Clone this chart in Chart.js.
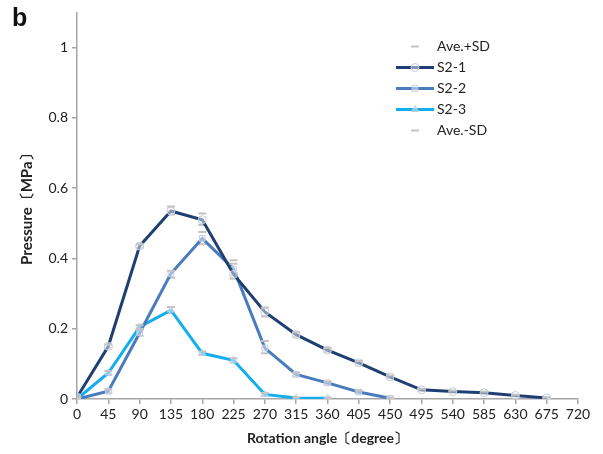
<!DOCTYPE html>
<html>
<head>
<meta charset="utf-8">
<script src="https://cdn.jsdelivr.net/npm/chart.js@4"></script>
<style>
  html, body { margin: 0; padding: 0; background: #fff; }
  #wrap { position: relative; width: 603px; height: 454px; }
  #tag { position: absolute; left: 12px; top: 3px; font: bold 25px "Liberation Sans", Arial, sans-serif; color: #111; }
</style>
</head>
<body>
<div id="wrap">
  <canvas id="chart" width="603" height="454"></canvas>
  <div id="tag">b</div>
</div>
<script>
const angles = [0, 45, 90, 135, 180, 225, 270, 315, 360, 405, 450, 495, 540, 585, 630, 675];
const xTicks = [0, 45, 90, 135, 180, 225, 270, 315, 360, 405, 450, 495, 540, 585, 630, 675, 720];
const yTicks = [0, 0.2, 0.4, 0.6, 0.8, 1];

const s21 = [0.005, 0.15, 0.435, 0.535, 0.51, 0.355, 0.248, 0.183, 0.139, 0.103, 0.063, 0.026, 0.021, 0.018, 0.01, 0.003];
const s22 = [0, 0.022, 0.188, 0.357, 0.457, 0.37, 0.145, 0.07, 0.046, 0.02, 0.002];
const s23 = [0, 0.074, 0.205, 0.253, 0.13, 0.11, 0.013, 0.003, 0.002];

// Ave.+SD / Ave.-SD dash markers for each series
const s21Up = [0.012, 0.155, 0.44, 0.548, 0.528, 0.395, 0.26, 0.19, 0.145, 0.108, 0.067, 0.029, 0.024, 0.021, 0.012, 0.005];
const s21Dn = [0.002, 0.145, 0.43, 0.525, 0.495, 0.342, 0.235, 0.177, 0.134, 0.098, 0.059, 0.023, 0.018, 0.015, 0.008, 0.001];
const s22Up = [0.005, 0.027, 0.2, 0.365, 0.475, 0.385, 0.165, 0.075, 0.05, 0.024, 0.004];
const s22Dn = [0, 0.017, 0.18, 0.345, 0.44, 0.352, 0.13, 0.065, 0.042, 0.016, 0];
const s23Up = [0.005, 0.08, 0.21, 0.262, 0.135, 0.116, 0.017, 0.005, 0.004];
const s23Dn = [0, 0.069, 0.198, 0.245, 0.125, 0.104, 0.009, 0.001, 0];

const pts = (vals) => vals.map((v, i) => ({ x: angles[i], y: v }));

const axisGray = "#a6a6a6";
const markerColor = "#c2cde0";
const markerFill = "rgba(255,255,255,0.45)";
const font = "Lato, 'Open Sans', sans-serif";

const lineSet = (label, vals, color, style) => ({
  label,
  data: pts(vals),
  borderColor: color,
  borderWidth: 3,
  showLine: true,
  pointStyle: style,
  pointRadius: 4,
  pointBorderColor: markerColor,
  pointBackgroundColor: markerFill,
  pointBorderWidth: 1,
  tension: 0,
});

const sdSet = (label, a, b, c) => ({
  label,
  data: pts(a).concat(pts(b), pts(c)),
  showLine: false,
  pointStyle: "line",
  pointRadius: 4,
  pointBorderColor: "#c4c4c4",
  pointBorderWidth: 2,
  borderColor: "#c4c4c4",
});

// legend drawn inside the plot, top right
const sideLegend = {
  id: "sideLegend",
  afterDraw(chart) {
    const ctx = chart.ctx;
    const x0 = 396, x1 = 434, tx = 437;
    let y = 46.5;
    ctx.save();
    chart.data.datasets.forEach((ds) => {
      if (ds.showLine) {
        ctx.strokeStyle = ds.borderColor;
        ctx.lineWidth = 3;
        ctx.beginPath();
        ctx.moveTo(x0, y);
        ctx.lineTo(x1, y);
        ctx.stroke();
      }
      ctx.strokeStyle = ds.pointBorderColor;
      ctx.fillStyle = ds.showLine ? markerFill : ds.pointBorderColor;
      ctx.lineWidth = ds.pointBorderWidth;
      Chart.helpers.drawPoint(ctx, { pointStyle: ds.pointStyle, radius: 4, borderWidth: ds.pointBorderWidth, rotation: 0 }, (x0 + x1) / 2, y);
      ctx.fillStyle = "#222";
      ctx.font = "14px " + font;
      ctx.textBaseline = "middle";
      ctx.textAlign = "left";
      ctx.fillText(ds.label, tx, y);
      y += 21;
    });
    ctx.restore();
  },
};

new Chart(document.getElementById("chart"), {
  type: "scatter",
  data: {
    datasets: [
      sdSet("Ave.+SD", s21Up, s22Up, s23Up),
      lineSet("S2-1", s21, "#1f3f73", "circle"),
      lineSet("S2-2", s22, "#4a7bbd", "rect"),
      lineSet("S2-3", s23, "#12aeee", "triangle"),
      sdSet("Ave.-SD", s21Dn, s22Dn, s23Dn),
    ],
  },
  options: {
    responsive: false,
    animation: false,
    layout: { padding: { left: 0, right: 25, top: 12, bottom: 0 } },
    plugins: { legend: { display: false }, tooltip: { enabled: false } },
    scales: {
      x: {
        type: "linear",
        min: 0,
        max: 720,
        afterFit: (s) => { s.height = 55; },
        afterBuildTicks: (s) => { s.ticks = xTicks.map((v) => ({ value: v })); },
        ticks: { color: "#222", font: { family: font, size: 14 }, padding: 2, maxRotation: 0, autoSkip: false },
        grid: { drawOnChartArea: false, drawTicks: true, tickLength: 5, color: axisGray, lineWidth: 1.5 },
        border: { color: axisGray, width: 1.5 },
        title: { display: true, text: "Rotation angle〔degree〕", color: "#222", font: { family: font, size: 14, weight: "bold" }, padding: { top: 0, bottom: 7 } },
      },
      y: {
        type: "linear",
        min: 0,
        max: 1.1,
        afterFit: (s) => { s.width = 77; },
        afterBuildTicks: (s) => { s.ticks = yTicks.map((v) => ({ value: v })); },
        ticks: { color: "#222", font: { family: font, size: 14 }, padding: 4, callback: (v) => String(+v.toFixed(1)) },
        grid: { drawOnChartArea: false, drawTicks: true, tickLength: 5, color: axisGray, lineWidth: 1.5 },
        border: { color: axisGray, width: 1.5 },
        title: { display: true, text: "Pressure〔MPa〕", color: "#222", font: { family: font, size: 15, weight: "bold" }, padding: { top: 18, bottom: 0 } },
      },
    },
  },
  plugins: [sideLegend],
});
</script>
</body>
</html>
